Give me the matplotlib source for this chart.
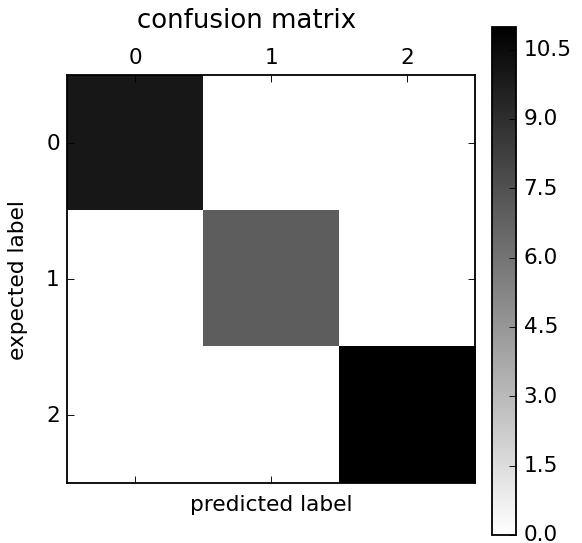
import numpy as np
import matplotlib
matplotlib.use('Agg')
import matplotlib.pyplot as plt

# ---- data ----
classes = ['0', '1', '2']
conf_mat = np.array([
    [10, 0, 0],
    [0, 7, 0],
    [0, 0, 11],
])
cbar_ticks = [0.0, 1.5, 3.0, 4.5, 6.0, 7.5, 9.0, 10.5]
# --------------

plt.style.use('classic')
plt.rcParams['font.family'] = 'DejaVu Sans'

fig = plt.figure(figsize=(4.48, 4.18), dpi=130, facecolor='white')
ax = fig.add_axes([0.1151, 0.1087, 0.701, 0.753])
cax = fig.add_axes([0.8454, 0.0147, 0.0412, 0.9355])

im = ax.matshow(conf_mat, cmap=plt.cm.gray_r, vmin=0, vmax=conf_mat.max())
ax.set_xticks(range(len(classes)))
ax.set_yticks(range(len(classes)))
ax.set_xticklabels(classes)
ax.set_yticklabels(classes)
ax.tick_params(labelsize=12)

ax.set_title('confusion matrix', fontsize=14.4, x=0.44, y=1.095)
ax.set_xlabel('predicted label', fontsize=12, labelpad=6)
ax.set_ylabel('expected label', fontsize=12, labelpad=10)

cb = fig.colorbar(im, cax=cax, ticks=cbar_ticks)
cb.ax.set_yticklabels(['%.1f' % t for t in cbar_ticks])
cb.ax.tick_params(labelsize=12)

fig.savefig('out.png', dpi=130, facecolor='white')
